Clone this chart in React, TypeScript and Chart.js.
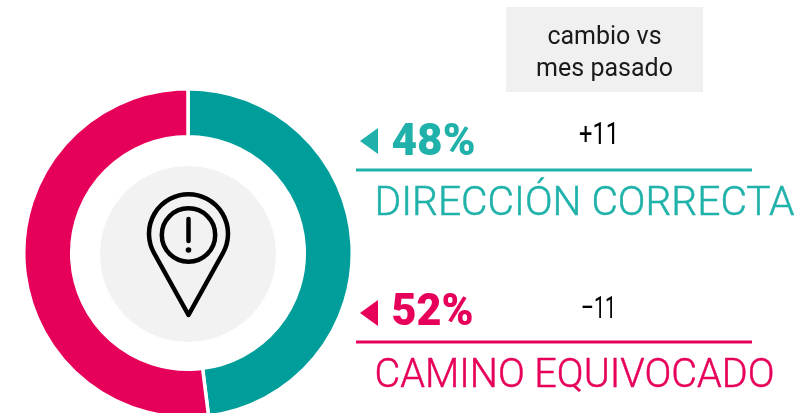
import { useEffect, useRef } from "react";
import { Chart, registerables } from "chart.js";

Chart.register(...registerables);

const categories = ["DIRECCIÓN CORRECTA", "CAMINO EQUIVOCADO"];
const shares = [48, 52];
const changes = ["+11", "–11"];
const headerLines = ["cambio vs", "mes pasado"];

const ringColors = ["#009E9A", "#E6005A"];
const textColors = ["#20B2AA", "#E6005A"];

const rows = [
  { tri: 141, pctBase: 155, pctW: 84, chgBase: 144, chgX: 579, chgW: 40, line: 170, nameBase: 215, nameW: 421 },
  { tri: 313, pctBase: 325, pctW: 82, chgBase: 318, chgX: 581, chgW: 35, line: 342, nameBase: 387, nameW: 401 },
];

export default function App() {
  const ref = useRef<HTMLCanvasElement>(null);
  useEffect(() => {
    document.body.style.margin = "0";
    const chart = new Chart(ref.current!, {
      type: "doughnut",
      data: {
        labels: categories,
        datasets: [
          {
            data: shares,
            backgroundColor: ringColors,
            borderColor: "#ffffff",
            borderWidth: 3.5,
          },
        ],
      },
      options: {
        responsive: false,
        animation: false,
        cutout: "70.8%",
        rotation: 0,
        layout: { padding: 0 },
        plugins: { legend: { display: false }, tooltip: { enabled: false } },
      },
    });
    return () => chart.destroy();
  }, []);

  return (
    <div style={{ position: "relative", width: 798, height: 413, overflow: "hidden", background: "#fff" }}>
      <div style={{ position: "absolute", left: 100, top: 166, width: 176, height: 176, borderRadius: "50%", background: "#F2F2F2" }} />
      <canvas ref={ref} width={332} height={332} style={{ position: "absolute", left: 22, top: 87, width: 332, height: 332 }} />
      <svg width={798} height={413} style={{ position: "absolute", left: 0, top: 0 }}>
        <rect x={506} y={7} width={197} height={85} fill="#F0F0F0" />
        {headerLines.map((t, i) => (
          <text key={t} x={604.5} y={44 + i * 32} textAnchor="middle" fontFamily="Roboto" fontSize={25} fill="#1a1a1a">
            {t}
          </text>
        ))}
        <g fill="none" stroke="#000" strokeWidth={4.5} strokeLinecap="round" strokeLinejoin="round">
          <path d="M188.5 315 L154 253 A39.5 39.5 0 1 1 223 253 Z" />
          <circle cx={188.5} cy={235} r={26.7} />
          <path d="M188.5 219 V241" />
        </g>
        <circle cx={188.5} cy={250} r={2.8} fill="#000" />
        {rows.map((r, i) => (
          <g key={categories[i]}>
            <polygon points={`360,${r.tri} 378,${r.tri - 13} 378,${r.tri + 13}`} fill={textColors[i]} />
            <text x={391.5} y={r.pctBase} fontFamily="Roboto" fontWeight={900} fontSize={45} fill={textColors[i]} textLength={r.pctW} lengthAdjust="spacingAndGlyphs">
              {shares[i]}%
            </text>
            <text x={r.chgX} y={r.chgBase} fontFamily="Roboto" fontWeight={400} fontSize={31} fill="#000" textLength={r.chgW} lengthAdjust="spacingAndGlyphs">
              {changes[i]}
            </text>
            <rect x={356} y={r.line - 1.5} width={396} height={3} fill={textColors[i]} />
            <text x={374.5} y={r.nameBase} fontFamily="Roboto" fontWeight={300} fontSize={41} fill={textColors[i]} stroke={textColors[i]} strokeWidth={0.5} textLength={r.nameW - 1} lengthAdjust="spacingAndGlyphs">
              {categories[i]}
            </text>
          </g>
        ))}
      </svg>
    </div>
  );
}
